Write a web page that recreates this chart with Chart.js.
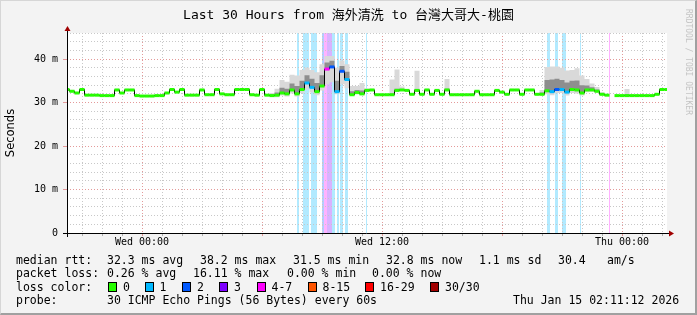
<!DOCTYPE html>
<html>
<head>
<meta charset="utf-8">
<script src="https://cdn.jsdelivr.net/npm/chart.js@4.4.1/dist/chart.umd.min.js"></script>
<style>
    body { margin: 0; background: #f3f3f3; }
    #wrap { position: relative; width: 697px; height: 315px; background: #f3f3f3; overflow: hidden; }
    #wrap canvas { position: absolute; left: 0; top: 0; }
    #frame { position: absolute; left: 0; top: 0; width: 697px; height: 315px; box-sizing: border-box;
        border-left: 1px solid #d6d6d6; border-top: 1px solid #d6d6d6;
        border-right: 2px solid #a0a0a0; border-bottom: 2px solid #a0a0a0; pointer-events: none; }
    .txt { position: absolute; font-family: 'DejaVu Sans Mono', 'Noto Sans CJK TC', monospace; font-size: 11.5px;
        line-height: 12px; color: #000; white-space: pre; }
    .box { position: absolute; width: 7px; height: 8px; border: 1px solid #000; }
    #title { left: 0; top: 7px; width: 697px; text-align: center; font-size: 13px; line-height: 16px; }
    #credit { left: 684px; top: 9px; font-size: 8px; line-height: 8px; color: #c4c4c4; writing-mode: vertical-rl; }
</style>
</head>
<body>
<div id="wrap">
    <canvas id="smokeChart" width="697" height="315"></canvas>
    <div id="frame"></div>
    <div class="txt" id="title">Last 30 Hours from 海外清洗 to 台灣大哥大-桃園</div>
    <div class="txt" id="credit">RRDTOOL / TOBI OETIKER</div>
</div>
<script>
// time axis in hours, relative to Wed 00:00, one sample every 15 minutes
const startHour = -3.75
const endHour = 26.25
const stepHour = 0.25

const xTickHours = [0, 12, 24]
const xTickLabels = ['Wed 00:00', 'Wed 12:00', 'Thu 00:00']
const yTickValues = [0, 10, 20, 30, 40]
const yTickLabels = ['0', '10 m', '20 m', '30 m', '40 m']

// median rtt (ms)
const medianRtt = [
    33.0, 32.6, 32.2, 33.0, 31.7, 31.7, 31.7, 31.6, 31.6, 31.6,
    32.9, 32.2, 32.9, 32.9, 31.6, 31.5, 31.5, 31.5, 31.6, 31.6,
    32.2, 33.0, 32.4, 33.0, 31.7, 31.7, 31.7, 32.9, 31.8, 31.8,
    33.0, 32.0, 31.8, 31.8, 33.0, 33.0, 33.0, 31.8, 31.7, 33.0,
    31.7, 31.6, 31.7, 32.2, 32.0, 32.9, 32.0, 33.0, 34.5, 33.5,
    32.5, 33.8, 37.7, 38.2, 32.5, 37.2, 35.3, 31.8, 32.3, 32.0,
    32.8, 32.9, 31.8, 31.8, 31.8, 31.8, 32.8, 32.9, 32.8, 31.9,
    32.8, 31.9, 32.9, 31.9, 32.8, 31.9, 32.9, 31.8, 31.8, 31.8,
    31.8, 31.8, 32.6, 31.8, 31.8, 31.8, 32.8, 32.4, 31.9, 32.9,
    32.9, 31.9, 32.9, 32.9, 31.9, 31.9, 32.7, 32.5, 33.0, 33.0,
    32.4, 33.0, 32.9, 32.2, 32.9, 32.9, 32.6, 31.9, 31.7, null,
    31.6, 31.6, 31.6, 31.6, 31.6, 31.6, 31.6, 31.6, 31.9, 33.0,
    33.0
]

// lost pings (of 30) per sample
const medianLoss = [
    0, 0, 0, 0, 0, 0, 0, 0, 0, 0,
    0, 0, 0, 0, 0, 0, 0, 0, 0, 0,
    0, 0, 0, 0, 0, 0, 0, 0, 0, 0,
    0, 0, 0, 0, 0, 0, 0, 0, 0, 0,
    0, 0, 0, 0, 0, 0, 0, 0, 1, 1,
    0, 0, 5, 2, 1, 2, 1, 0, 0, 0,
    0, 0, 0, 0, 0, 0, 0, 0, 0, 0,
    0, 0, 0, 0, 0, 0, 0, 0, 0, 0,
    0, 0, 0, 0, 0, 0, 0, 0, 0, 0,
    0, 0, 0, 0, 0, 0, 0, 1, 2, 1,
    1, 0, 0, 0, 0, 0, 0, 0, 0, 0,
    0, 0, 0, 0, 0, 0, 0, 0, 0, 0,
    0
]

// smoke spread above / below the median (ms)
const smokeUp = [
    0.2, 0.2, 0.2, 0.2, 0.2, 0.2, 0.2, 0.2, 0.2, 0.2,
    0.2, 0.2, 0.2, 0.2, 0.2, 0.2, 0.2, 0.2, 0.2, 0.2,
    0.2, 0.2, 0.2, 0.2, 0.2, 0.2, 0.2, 0.2, 0.2, 0.2,
    0.2, 0.2, 0.2, 0.2, 0.2, 0.2, 0.2, 0.2, 0.2, 0.2,
    0.2, 0.6, 1.5, 3.0, 2.8, 3.5, 4.2, 4.5, 3.5, 4.0,
    4.5, 5.0, 3.0, 2.5, 5.5, 2.5, 3.5, 2.0, 1.5, 2.5,
    0.5, 0.2, 0.2, 0.2, 0.2, 3.5, 4.8, 0.8, 0.2, 0.2,
    4.5, 0.2, 0.2, 0.2, 0.2, 0.2, 2.5, 0.2, 0.2, 0.2,
    0.2, 0.2, 0.2, 0.2, 0.2, 0.2, 0.2, 0.2, 0.2, 0.2,
    0.2, 0.2, 0.2, 0.2, 0.2, 1.0, 5.5, 5.8, 5.3, 5.0,
    5.0, 4.5, 5.0, 4.0, 2.5, 1.5, 1.0, 0.5, 0.2, null,
    0.2, 0.2, 1.5, 0.2, 0.2, 0.2, 0.2, 0.2, 0.2, 0.2,
    0.2
]
const smokeCore = [
    0.1, 0.1, 0.1, 0.1, 0.1, 0.1, 0.1, 0.1, 0.1, 0.1,
    0.1, 0.1, 0.1, 0.1, 0.1, 0.1, 0.1, 0.1, 0.1, 0.1,
    0.1, 0.1, 0.1, 0.1, 0.1, 0.1, 0.1, 0.1, 0.1, 0.1,
    0.1, 0.1, 0.1, 0.1, 0.1, 0.1, 0.1, 0.1, 0.1, 0.1,
    0.1, 0.3, 0.6, 1.2, 1.2, 1.5, 1.8, 2.0, 1.8, 2.0,
    2.0, 2.5, 1.5, 1.4, 2.5, 1.2, 1.8, 0.8, 0.6, 0.8,
    0.2, 0.1, 0.1, 0.1, 0.1, 0.3, 0.4, 0.2, 0.1, 0.1,
    0.3, 0.1, 0.1, 0.1, 0.1, 0.1, 0.3, 0.1, 0.1, 0.1,
    0.1, 0.1, 0.1, 0.1, 0.1, 0.1, 0.1, 0.1, 0.1, 0.1,
    0.1, 0.1, 0.1, 0.1, 0.1, 0.4, 2.5, 2.8, 2.5, 2.2,
    2.2, 2.0, 2.2, 1.8, 1.0, 0.6, 0.4, 0.2, 0.1, null,
    0.1, 0.1, 0.3, 0.1, 0.1, 0.1, 0.1, 0.1, 0.1, 0.1,
    0.1
]
const smokeDown = [
    0.2, 0.2, 0.2, 0.2, 0.2, 0.2, 0.2, 0.2, 0.2, 0.2,
    0.2, 0.2, 0.2, 0.2, 0.2, 0.2, 0.2, 0.2, 0.2, 0.2,
    0.2, 0.2, 0.2, 0.2, 0.2, 0.2, 0.2, 0.2, 0.2, 0.2,
    0.2, 0.2, 0.2, 0.2, 0.2, 0.2, 0.2, 0.2, 0.2, 0.2,
    0.2, 0.3, 0.5, 0.6, 0.6, 0.8, 0.6, 0.8, 1.5, 1.2,
    0.8, 1.0, 3.5, 3.5, 0.6, 3.0, 2.0, 0.3, 0.4, 0.3,
    0.2, 0.2, 0.2, 0.2, 0.2, 0.2, 0.2, 0.2, 0.2, 0.2,
    0.2, 0.2, 0.2, 0.2, 0.2, 0.2, 0.2, 0.2, 0.2, 0.2,
    0.2, 0.2, 0.2, 0.2, 0.2, 0.2, 0.2, 0.2, 0.2, 0.2,
    0.2, 0.2, 0.2, 0.2, 0.2, 0.3, 0.8, 0.8, 0.8, 0.8,
    0.8, 0.8, 0.8, 0.6, 0.5, 0.4, 0.3, 0.2, 0.2, null,
    0.2, 0.2, 0.2, 0.2, 0.2, 0.2, 0.2, 0.2, 0.2, 0.2,
    0.2
]

// packet loss periods (hours) shown as background bars
const lossStart = [7.75, 8.025, 8.45, 8.975, 9.1, 9.25, 9.5, 9.725, 9.9, 10.15, 11.2, 20.25, 20.625, 21.0, 21.875, 23.35]
const lossEnd = [7.85, 8.325, 8.725, 9.1, 9.25, 9.5, 9.65, 9.825, 10.05, 10.275, 11.25, 20.375, 20.775, 21.2, 21.925, 23.4]
const lossCount = [1, 1, 1, 2, 5, 3, 1, 1, 1, 1, 1, 1, 1, 1, 1, 5]

const lossColors = ['#26ff00', '#00b8ff', '#0059ff', '#7e00ff', '#ff00ff', '#ff5500', '#ff0000', '#a10000']
const lossLabels = ['0', '1', '2', '3', '4-7', '8-15', '16-29', '30/30']

const rttValues = [32.3, 38.2, 31.5, 32.8, 1.1]
const rttNames = ['avg', 'max', 'min', 'now', 'sd']
const amPerSec = 30.4
const lossValues = [0.26, 16.11, 0.00, 0.00]
const lossNames = ['avg', 'max', 'min', 'now']
const probeText = '30 ICMP Echo Pings (56 Bytes) every 60s'
const stampText = 'Thu Jan 15 02:11:12 2026'

const minorGrid = '#c8c8c8'
const majorGrid = '#e49a9a'

function lossBucket(n) {
    if (n <= 3) return n
    if (n <= 7) return 4
    if (n <= 15) return 5
    if (n <= 29) return 6
    return 7
}

function fade(hex, alpha) {
    const r = parseInt(hex.slice(1, 3), 16), g = parseInt(hex.slice(3, 5), 16), b = parseInt(hex.slice(5, 7), 16)
    return `rgba(${r}, ${g}, ${b}, ${alpha})`
}

function addText(text, left, centerY) {
    const el = document.createElement('div')
    el.className = 'txt'
    el.textContent = text
    el.style.left = left + 'px'
    el.style.top = (centerY - 6) + 'px'
    document.getElementById('wrap').appendChild(el)
}

function buildLegend() {
    const rows = [260, 273, 287, 300]
    addText('median rtt:', 16, rows[0])
    const rttX = [107, 200, 293, 386, 479]
    rttValues.forEach((v, i) => addText(`${v.toFixed(1)} ms ${rttNames[i]}`, rttX[i], rows[0]))
    addText(amPerSec.toFixed(1), 558, rows[0])
    addText('am/s', 607, rows[0])

    addText('packet loss:', 16, rows[1])
    const lossX = [107, 193, 287, 372]
    lossValues.forEach((v, i) => addText(`${v.toFixed(2)} % ${lossNames[i]}`, lossX[i], rows[1]))

    addText('loss color:', 16, rows[2])
    const boxX = [108, 144.5, 182, 219, 256.5, 307.5, 365, 430]
    lossColors.forEach((c, i) => {
        const box = document.createElement('div')
        box.className = 'box'
        box.style.left = boxX[i] + 'px'
        box.style.top = (rows[2] - 5) + 'px'
        box.style.background = c
        document.getElementById('wrap').appendChild(box)
        addText(lossLabels[i], boxX[i] + 15, rows[2])
    })

    addText('probe:', 16, rows[3])
    addText(probeText, 107, rows[3])
    addText(stampText, 513, rows[3])
}

const plotBackground = {
    id: 'plotBackground',
    beforeDraw(chart) {
        const {ctx, chartArea: area, scales: {x}} = chart
        ctx.save()
        ctx.fillStyle = '#ffffff'
        ctx.fillRect(area.left, area.top, area.right - area.left, area.bottom - area.top)
        lossStart.forEach((s, i) => {
            const x0 = Math.round(x.getPixelForValue(s))
            const x1 = Math.round(x.getPixelForValue(lossEnd[i]))
            ctx.fillStyle = fade(lossColors[lossBucket(lossCount[i])], 0.3)
            ctx.fillRect(x0, area.top, Math.max(1, x1 - x0), area.bottom - area.top)
        })
        ctx.restore()
    }
}

const axisArrows = {
    id: 'axisArrows',
    afterDraw(chart) {
        const {ctx, chartArea: area} = chart
        const l = area.left + 0.5, b = area.bottom + 0.5
        ctx.save()
        ctx.strokeStyle = '#000'
        ctx.lineWidth = 1
        ctx.beginPath()
        ctx.moveTo(area.left - 4, b)
        ctx.lineTo(area.right + 3, b)
        ctx.moveTo(l, area.bottom + 4)
        ctx.lineTo(l, area.top - 3)
        ctx.stroke()
        ctx.fillStyle = '#a00000'
        ctx.beginPath()
        ctx.moveTo(area.right + 7, b)
        ctx.lineTo(area.right + 2, b - 3)
        ctx.lineTo(area.right + 2, b + 3)
        ctx.closePath()
        ctx.fill()
        ctx.beginPath()
        ctx.moveTo(l, area.top - 7)
        ctx.lineTo(l - 3, area.top - 2)
        ctx.lineTo(l + 3, area.top - 2)
        ctx.closePath()
        ctx.fill()
        ctx.restore()
    }
}

document.addEventListener('DOMContentLoaded', function () {
    const hours = medianRtt.map((_, i) => startHour + i * stepHour)
    const series = (values) => hours.map((h, i) => ({x: h, y: values[i]}))
    const shifted = (spread, sign) => hours.map((h, i) => ({
        x: h,
        y: medianRtt[i] === null ? null : medianRtt[i] + sign * spread[i]
    }))

    const smokeChartContext = document.getElementById('smokeChart').getContext('2d')

    new Chart(smokeChartContext, {
        type: 'line',
        data: {
            datasets: [
                {
                    // median coloured by loss
                    data: series(medianRtt),
                    showLine: false,
                    pointStyle: 'line',
                    pointRadius: 2.5,
                    pointBorderWidth: 3,
                    pointBorderColor: ctx => lossColors[lossBucket(medianLoss[ctx.dataIndex])],
                    order: 0
                },
                {
                    data: series(medianRtt),
                    borderColor: '#000000',
                    borderWidth: 1,
                    stepped: 'middle',
                    pointRadius: 0,
                    fill: false,
                    order: 1
                },
                {
                    data: shifted(smokeCore, 1),
                    borderColor: 'rgba(0,0,0,0)',
                    borderWidth: 0,
                    stepped: 'middle',
                    pointRadius: 0,
                    fill: 1,
                    backgroundColor: '#8e8e8e',
                    order: 2
                },
                {
                    data: shifted(smokeUp, 1),
                    borderColor: 'rgba(0,0,0,0)',
                    borderWidth: 0,
                    stepped: 'middle',
                    pointRadius: 0,
                    fill: 4,
                    backgroundColor: '#d9d9d9',
                    order: 3
                },
                {
                    data: shifted(smokeDown, -1),
                    borderColor: 'rgba(0,0,0,0)',
                    borderWidth: 0,
                    stepped: 'middle',
                    pointRadius: 0,
                    fill: false,
                    order: 4
                }
            ]
        },
        options: {
            responsive: false,
            animation: false,
            events: [],
            layout: {padding: {top: 33, right: 30, left: 0, bottom: 0}},
            plugins: {
                legend: {display: false},
                tooltip: {enabled: false}
            },
            scales: {
                x: {
                    type: 'linear',
                    min: startHour,
                    max: endHour,
                    afterFit: scale => { scale.height = 82 },
                    afterBuildTicks: scale => {
                        const ticks = []
                        for (let h = Math.ceil(startHour); h <= endHour; h++) ticks.push({value: h})
                        scale.ticks = ticks
                    },
                    grid: {
                        color: ctx => ctx.tick && ctx.tick.value % 6 === 0 ? majorGrid : minorGrid,
                        tickColor: ctx => ctx.tick && ctx.tick.value % 6 === 0 ? majorGrid : '#b0b0b0',
                        tickLength: 3,
                        lineWidth: 1
                    },
                    border: {display: false, dash: [1, 2]},
                    ticks: {
                        autoSkip: false,
                        maxRotation: 0,
                        padding: 0,
                        color: '#000',
                        font: {family: 'DejaVu Sans Mono', size: 10},
                        callback: value => {
                            const k = xTickHours.indexOf(value)
                            return k >= 0 ? xTickLabels[k] : ''
                        }
                    }
                },
                y: {
                    min: 0,
                    max: 46,
                    afterFit: scale => { scale.width = 67 },
                    grid: {
                        color: ctx => ctx.tick && ctx.tick.value % 10 === 0 ? majorGrid : minorGrid,
                        tickColor: ctx => ctx.tick && ctx.tick.value % 10 === 0 ? majorGrid : 'rgba(0,0,0,0)',
                        tickLength: 4,
                        lineWidth: 1
                    },
                    border: {display: false, dash: [1, 2]},
                    ticks: {
                        stepSize: 2,
                        autoSkip: false,
                        padding: 5,
                        color: '#000',
                        font: {family: 'DejaVu Sans Mono', size: 10},
                        callback: value => {
                            const k = yTickValues.indexOf(value)
                            return k >= 0 ? yTickLabels[k] : ''
                        }
                    },
                    title: {
                        display: true,
                        text: 'Seconds',
                        color: '#000',
                        font: {family: 'DejaVu Sans', size: 11.5},
                        padding: {top: 4, bottom: 0}
                    }
                }
            }
        },
        plugins: [plotBackground, axisArrows]
    })

    buildLegend()
})
</script>
</body>
</html>
